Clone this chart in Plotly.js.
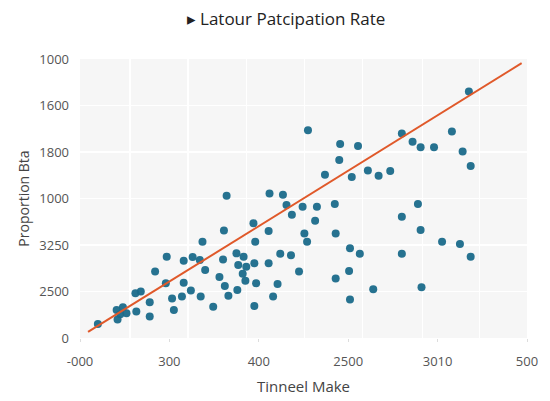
<!DOCTYPE html>
<html>
<head>
<meta charset="utf-8">
<script src="https://cdn.plot.ly/plotly-3.0.1.min.js"></script>
<style>html,body{margin:0;padding:0;background:#fff;}#chart{width:550px;height:401px;}</style>
</head>
<body>
<div id="chart"></div>
<script>
// Category positions (0..5) with their printed labels
const xTickVals = [0, 1, 2, 3, 4, 5];
const xTickText = ['-000', '300', '400', '2500', '3010', '500'];
const yTickVals = [0, 1, 2, 3, 4, 5, 6];
const yTickText = ['0', '2500', '3250', '1000', '1800', '1600', '1000'];

// Scatter points (in axis units)
const pointX = [2.55,1.64,2.12,2.27,2.31,2.49,2.65,4.35,3.60,4.16,2.91,3.11,3.72,3.81,3.96,4.28,2.90,2.74,3.04,3.22,
  3.34,3.47,4.37,2.85,3.78,2.37,1.94,1.61,2.11,2.51,2.63,2.54,1.37,1.96,0.97,1.16,1.26,1.34,1.60,1.75,
  1.83,1.77,1.86,1.95,2.11,2.24,2.36,1.40,0.84,1.82,1.56,0.96,1.16,1.85,1.97,2.45,1.62,2.21,1.76,1.24,
  0.62,0.68,1.66,2.16,1.14,1.03,1.35,0.78,1.95,1.49,1.05,0.41,0.48,0.63,0.45,0.78,0.42,0.20,3.60,3.81,
  2.86,4.05,4.25,4.37,3.02,3.13,3.60,3.01,2.86,3.28,3.82,3.02,0.52];
const pointY = [4.47,3.06,3.11,3.08,2.86,2.82,2.82,5.30,4.40,4.44,4.17,4.13,4.22,4.10,4.10,4.01,3.83,3.51,3.46,3.60,
  3.49,3.59,3.70,2.88,2.88,2.65,2.47,2.31,2.30,2.25,2.52,2.07,2.07,2.07,1.75,1.66,1.74,1.68,1.69,1.82,
  1.75,1.57,1.53,1.61,1.61,1.81,1.78,1.46,1.43,1.38,1.31,1.18,1.19,1.23,1.18,1.43,1.12,1.16,1.03,1.02,
  0.96,1.00,0.91,0.89,0.89,0.85,0.89,0.77,0.69,0.67,0.60,0.60,0.66,0.57,0.51,0.46,0.40,0.30,2.61,2.32,
  2.25,2.07,2.02,1.75,1.93,1.81,1.81,1.44,1.28,1.05,1.09,0.83,0.53];

// Trend line end points
const trendX = [0.09, 4.94];
const trendY = [0.13, 5.91];

// Vertical grid positions (grid is offset from the labelled ticks)
const xGridVals = [0.56, 1.21, 1.86, 2.51, 3.16, 3.83, 4.47];

const font = "'Open Sans', 'Noto Sans', sans-serif";

const traces = [
  {
    x: pointX, y: pointY, type: 'scatter', mode: 'markers',
    marker: {color: '#1a6a8a', size: 8, opacity: 0.95, line: {width: 0}},
    hoverinfo: 'skip', showlegend: false
  },
  {
    x: trendX, y: trendY, type: 'scatter', mode: 'lines',
    line: {color: '#e0592a', width: 2},
    hoverinfo: 'skip', showlegend: false
  }
];

const layout = {
  width: 550, height: 401,
  margin: {l: 80, r: 23, t: 59, b: 63},
  paper_bgcolor: '#ffffff',
  plot_bgcolor: '#f6f6f6',
  font: {family: font, color: '#555', size: 13},
  title: {
    text: '▸ Latour Patcipation Rate',
    font: {family: font, size: 17, color: '#222'},
    xref: 'container', x: 0.52, xanchor: 'center',
    yref: 'container', y: 0.953, yanchor: 'middle'
  },
  xaxis: {
    range: [0, 5], tickmode: 'array', tickvals: xGridVals,
    showticklabels: false, ticks: '', showgrid: true, gridcolor: '#ffffff', gridwidth: 1.5,
    zeroline: false, showline: false, fixedrange: true
  },
  xaxis2: {
    overlaying: 'x', side: 'bottom', anchor: 'y',
    range: [0, 5], tickmode: 'array', tickvals: xTickVals, ticktext: xTickText,
    showgrid: false, zeroline: false, showline: false,
    ticks: 'outside', ticklen: 3, tickcolor: '#dddddd', ticklabelstandoff: 8,
    tickfont: {family: font, size: 13, color: '#555'},
    title: {text: 'Tinneel Make', font: {family: font, size: 15, color: '#444'}, standoff: 12}
  },
  yaxis: {
    range: [0, 6], tickmode: 'array', tickvals: yTickVals, ticktext: yTickText,
    showgrid: true, gridcolor: '#ffffff', gridwidth: 1.5,
    zeroline: false, showline: false, ticks: '', ticklabelstandoff: 10,
    tickfont: {family: font, size: 13, color: '#555'},
    title: {text: 'Proportion Bta', font: {family: font, size: 14, color: '#444'}, standoff: 6}
  }
};

// dummy invisible trace to activate xaxis2
traces.push({x: [0], y: [0], xaxis: 'x2', yaxis: 'y', type: 'scatter', mode: 'markers',
  marker: {opacity: 0}, hoverinfo: 'skip', showlegend: false});

Plotly.newPlot('chart', traces, layout, {displayModeBar: false, staticPlot: true});
</script>
</body>
</html>
